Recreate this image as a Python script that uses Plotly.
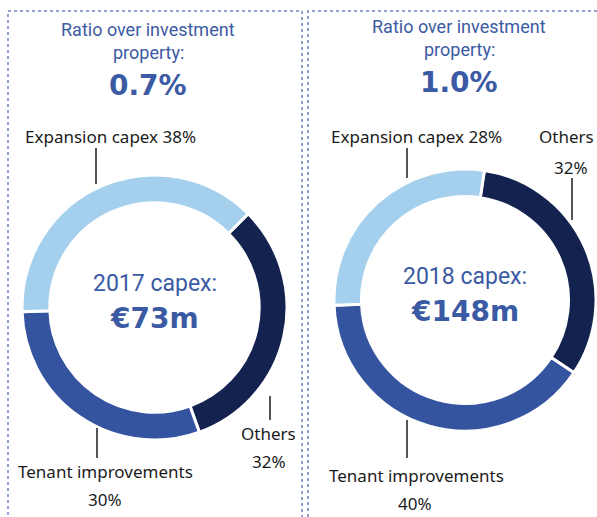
import plotly.graph_objects as go

# Capex breakdown per year (share of total, %)
segments = ["Others", "Tenant improvements", "Expansion capex"]
capex_2017 = [32, 30, 38]
capex_2018 = [32, 40, 28]
totals = ["€73m", "€148m"]
years = ["2017", "2018"]
ratios = ["0.7%", "1.0%"]

W, H = 597, 517
DARK, MID, LIGHT = "#13224f", "#3454a0", "#a4d0ee"
BLUE_TXT = "#3b5aa4"
INK = "#1b1b1b"


def px(x):
    return x / W


def py(y):
    return 1 - y / H


fig = go.Figure()

donuts = [
    dict(values=capex_2017, cx=154.5, cy=307.5, r=132.5, rot=45),
    dict(values=capex_2018, cx=465, cy=300, r=131, rot=8.5),
]
for d in donuts:
    fig.add_trace(go.Pie(
        labels=segments,
        values=d["values"],
        hole=0.79,
        sort=False,
        direction="clockwise",
        rotation=d["rot"],
        textinfo="none",
        hoverinfo="label+percent",
        showlegend=False,
        marker=dict(colors=[DARK, MID, LIGHT], line=dict(color="white", width=3)),
        domain=dict(x=[px(d["cx"] - d["r"]), px(d["cx"] + d["r"])],
                    y=[py(d["cy"] + d["r"]), py(d["cy"] - d["r"])]),
    ))

ann = []


def text(x, y, s, size, color, family="Noto Sans", weight="normal", xanchor="center"):
    ann.append(dict(x=px(x), y=py(y), xref="paper", yref="paper", text=s,
                    showarrow=False, xanchor=xanchor, yanchor="middle",
                    font=dict(size=size, color=color, family=family, weight=weight)))


HEAVY = "DejaVu Sans"

# Headers
for cx, y0, r in [(148, 29, ratios[0]), (459, 26, ratios[1])]:
    text(cx, y0, "Ratio over investment", 18, BLUE_TXT, "Roboto")
    text(cx, y0 + 23, "property:", 18, BLUE_TXT, "Roboto")
    text(cx, y0 + 56, r, 28, BLUE_TXT, HEAVY, weight="bold")

# Donut centres
for d, yr, tot in zip(donuts, years, totals):
    text(d["cx"], d["cy"] - 24, f"{yr} capex:", 23, BLUE_TXT, "Roboto")
    text(d["cx"], d["cy"] + 11, tot, 28, BLUE_TXT, HEAVY, weight="bold")

# Segment labels
LS = 17
text(110, 136, f"{segments[2]} {capex_2017[2]}%", LS, INK)
text(268, 433, segments[0], LS, INK)
text(269, 461, f"{capex_2017[0]}%", LS, INK)
text(105, 471, segments[1], LS, INK)
text(105, 499, f"{capex_2017[1]}%", LS, INK)

text(416, 136, f"{segments[2]} {capex_2018[2]}%", LS, INK)
text(596, 136, segments[0], LS, INK, xanchor="right")
text(571, 167, f"{capex_2018[0]}%", LS, INK)
text(416, 475, segments[1], LS, INK)
text(415, 503, f"{capex_2018[1]}%", LS, INK)

shapes = []
# Leader lines
for x, y0, y1 in [(96, 148, 184), (270, 396, 420), (97, 428, 458),
                  (407, 148, 178), (572, 178, 220), (407, 420, 458)]:
    shapes.append(dict(type="line", xref="paper", yref="paper",
                       x0=px(x), x1=px(x), y0=py(y0), y1=py(y1),
                       line=dict(color=INK, width=1.5)))

# Dotted panel frames
for x0, x1 in [(8, 302), (308, 640)]:
    shapes.append(dict(type="rect", xref="paper", yref="paper",
                       x0=px(x0), x1=px(x1), y0=py(560), y1=py(11),
                       line=dict(color="#6d83c4", width=1.5, dash="dot"),
                       fillcolor="rgba(0,0,0,0)"))

fig.update_layout(
    width=W, height=H,
    margin=dict(l=0, r=0, t=0, b=0),
    paper_bgcolor="white", plot_bgcolor="white",
    annotations=ann, shapes=shapes,
)

fig.write_html("out.html")
